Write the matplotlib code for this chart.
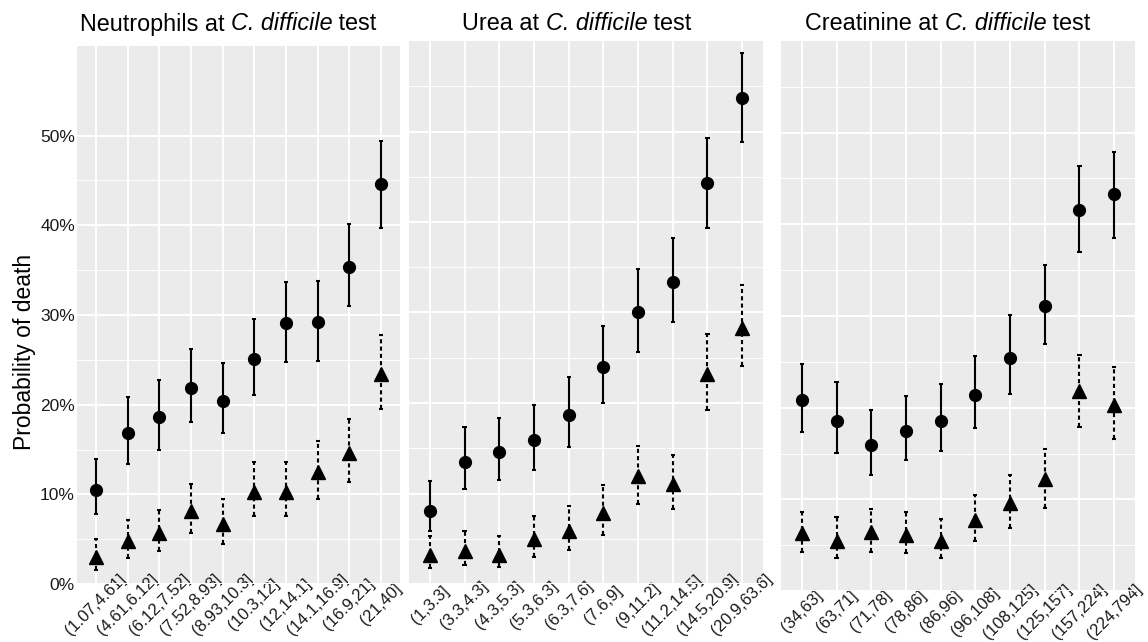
import numpy as np
import matplotlib
matplotlib.use('Agg')
import matplotlib.pyplot as plt
from matplotlib.ticker import FixedLocator

plt.rcParams['font.family'] = ['Liberation Sans', 'DejaVu Sans']

# Neutrophils bins (percent death, estimate and interval)
neut_labels = ["(1.07,4.61]", "(4.61,6.12]", "(6.12,7.52]", "(7.52,8.93]", "(8.93,10.3]",
               "(10.3,12]", "(12,14.1]", "(14.1,16.9]", "(16.9,21]", "(21,40]"]
neut_circ = [10.45, 16.8, 18.6, 21.9, 20.4, 25.1, 29.1, 29.25, 35.4, 44.6]
neut_circ_lo = [7.8, 13.35, 15.0, 18.1, 16.8, 21.1, 24.8, 24.9, 31.0, 39.75]
neut_circ_hi = [13.9, 20.8, 22.7, 26.2, 24.7, 29.55, 33.65, 33.8, 40.2, 49.4]
neut_tri = [3.0, 4.8, 5.7, 8.1, 6.7, 10.25, 10.25, 12.5, 14.65, 23.4]
neut_tri_lo = [1.6, 2.9, 3.65, 5.7, 4.5, 7.6, 7.6, 9.45, 11.4, 19.5]
neut_tri_hi = [5.05, 7.1, 8.3, 11.1, 9.45, 13.6, 13.6, 15.95, 18.45, 27.8]

# Urea bins
urea_labels = ["(1,3.3]", "(3.3,4.3]", "(4.3,5.3]", "(5.3,6.3]", "(6.3,7.6]",
               "(7.6,9]", "(9,11.2]", "(11.2,14.5]", "(14.5,20.9]", "(20.9,63.6]"]
urea_circ = [8.1, 13.5, 14.55, 15.9, 18.65, 23.95, 30.1, 33.4, 44.3, 53.7]
urea_circ_lo = [5.85, 10.5, 11.5, 12.55, 15.15, 20.0, 25.6, 29.0, 39.3, 48.8]
urea_circ_hi = [11.35, 17.3, 18.3, 19.8, 22.85, 28.5, 34.8, 38.2, 49.3, 58.7]
urea_tri = [3.2, 3.6, 3.25, 5.0, 5.9, 7.85, 11.9, 11.0, 23.2, 28.3]
urea_tri_lo = [1.8, 2.05, 1.85, 3.0, 3.8, 5.4, 8.85, 8.25, 19.2, 24.1]
urea_tri_hi = [5.3, 5.85, 5.3, 7.5, 8.6, 10.9, 15.3, 14.3, 27.6, 33.0]

# Creatinine bins
creat_labels = ["(34,63]", "(63,71]", "(71,78]", "(78,86]", "(86,96]",
                "(96,108]", "(108,125]", "(125,157]", "(157,224]", "(224,794]"]
creat_circ = [20.8, 18.6, 15.9, 17.5, 18.6, 21.4, 25.4, 31.1, 41.6, 43.3]
creat_circ_lo = [17.4, 15.1, 12.7, 14.25, 15.25, 17.8, 21.5, 26.9, 37.0, 38.5]
creat_circ_hi = [24.8, 22.75, 19.7, 21.3, 22.6, 25.6, 30.1, 35.6, 46.4, 47.9]
creat_tri = [6.3, 5.5, 6.4, 6.1, 5.5, 7.75, 9.65, 12.2, 21.8, 20.3]
creat_tri_lo = [4.3, 3.55, 4.3, 4.1, 3.55, 5.45, 6.85, 9.05, 17.9, 16.6]
creat_tri_hi = [8.65, 8.1, 8.9, 8.6, 7.9, 10.5, 12.7, 15.5, 25.8, 24.4]

W, H = 1148, 642
fig = plt.figure(figsize=(W / 100, H / 100), dpi=100)


def add_panel(left, top, right, bottom):
    return fig.add_axes([left / W, 1 - bottom / H, (right - left) / W, (bottom - top) / H])


def draw_panel(ax, labels, circ, c_lo, c_hi, tri, t_lo, t_hi, minor, show_y):
    x = np.arange(len(labels))
    circ, c_lo, c_hi = [np.array(v) / 100 for v in (circ, c_lo, c_hi)]
    tri, t_lo, t_hi = [np.array(v) / 100 for v in (tri, t_lo, t_hi)]
    cw = 0.06

    ax.set_facecolor('#EBEBEB')
    ax.set_axisbelow(True)

    # solid intervals with round markers
    ax.vlines(x, c_lo, c_hi, color='black', lw=1.5, zorder=3)
    ax.hlines(np.concatenate([c_lo, c_hi]), np.tile(x - cw, 2), np.tile(x + cw, 2),
              color='black', lw=1.5, zorder=3)
    ax.plot(x, circ, 'o', color='black', ms=8.5, zorder=4)

    # dotted intervals with triangles
    ax.vlines(x, t_lo, t_hi, color='black', lw=1.5, linestyles=[(0, (2, 1.5))], zorder=3)
    ax.hlines(np.concatenate([t_lo, t_hi]), np.tile(x - cw, 2), np.tile(x + cw, 2),
              color='black', lw=1.5, zorder=3)
    ax.plot(x, tri, '^', color='black', ms=10, zorder=4)

    ax.set_xlim(-0.6, len(labels) - 0.4)
    ax.set_ylim(0, 0.6)
    ax.set_xticks(x)
    ax.set_xticklabels(labels, rotation=45, ha='center', va='center',
                       rotation_mode='anchor', fontsize=12)
    ax.tick_params(axis='x', length=0, pad=15, colors='#1A1A1A')
    ax.set_yticks(np.arange(0, 0.51, 0.1))
    ax.yaxis.set_minor_locator(FixedLocator(minor))
    if show_y:
        ax.set_yticklabels([f"{int(round(v * 100))}%" for v in np.arange(0, 0.51, 0.1)],
                           fontsize=12.5)
    else:
        ax.set_yticklabels([])
    ax.tick_params(axis='y', which='both', length=0, pad=1.5, colors='#1A1A1A')
    ax.tick_params(axis='x', which='minor', length=0)

    ax.grid(which='major', color='white', lw=1.4)
    ax.grid(which='minor', axis='y', color='white', lw=0.7)
    for s in ax.spines.values():
        s.set_visible(False)


def panel_title(cx, lead):
    # lead text + italic organism + " test", centred as a whole on cx (pixels)
    parts = [(lead + " ", 'normal'), ("C. difficile", 'italic'), (" test", 'normal')]
    renderer = fig.canvas.get_renderer()
    texts = [fig.text(0, 1 - 24 / H, s, style=st, fontsize=16.8, va='center', ha='left')
             for s, st in parts]
    widths = [t.get_window_extent(renderer).width for t in texts]
    x = cx - sum(widths) / 2
    for t, w in zip(texts, widths):
        t.set_x(x / W)
        x += w


minor_left = [0.05, 0.15, 0.25, 0.35, 0.45]
minor_other = [0.05, 0.15, 0.25, 0.35, 0.45, 0.55]

ax1 = add_panel(77, 46, 400, 584)
draw_panel(ax1, neut_labels, neut_circ, neut_circ_lo, neut_circ_hi,
           neut_tri, neut_tri_lo, neut_tri_hi, minor_left, True)

ax2 = add_panel(409, 41, 763, 584)
draw_panel(ax2, urea_labels, urea_circ, urea_circ_lo, urea_circ_hi,
           urea_tri, urea_tri_lo, urea_tri_hi, minor_other, False)

ax3 = add_panel(781, 41, 1135, 591)
draw_panel(ax3, creat_labels, creat_circ, creat_circ_lo, creat_circ_hi,
           creat_tri, creat_tri_lo, creat_tri_hi, minor_other, False)

panel_title(228, "Neutrophils at")
panel_title(577, "Urea at")
panel_title(948, "Creatinine at")

fig.text(25 / W, 1 - 352 / H, "Probability of death", rotation=90,
         ha='center', va='center', fontsize=16.5)

fig.savefig('out.png', dpi=100)
